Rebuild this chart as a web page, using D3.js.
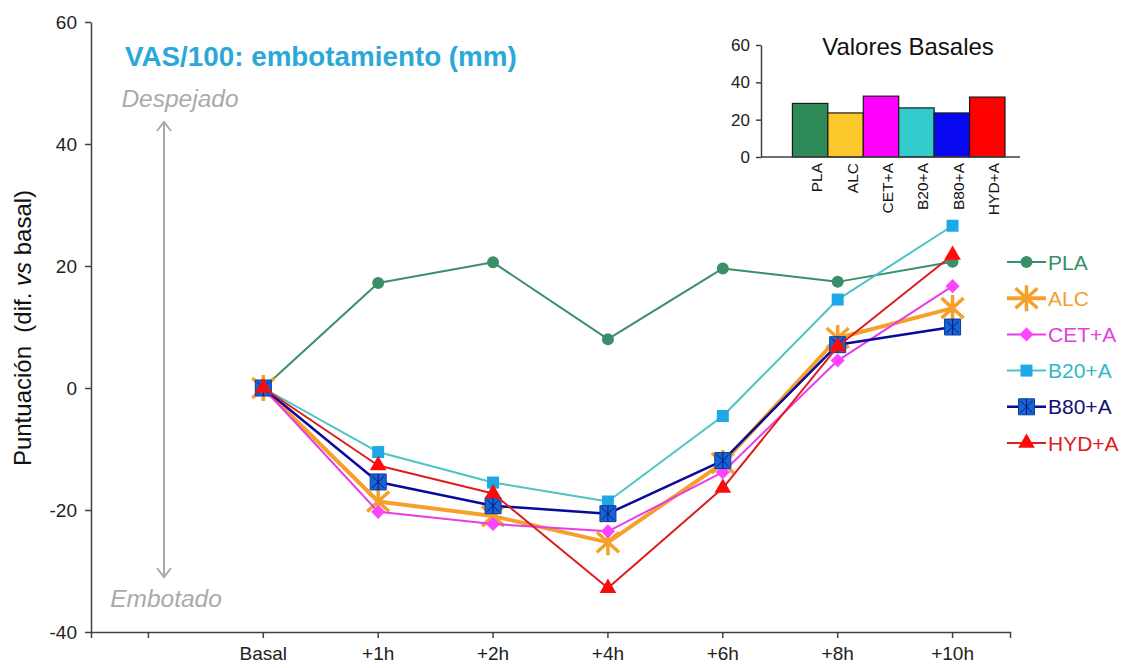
<!DOCTYPE html>
<head>
  <meta charset="utf-8">
  <title>VAS embotamiento</title>
  <style>
    body { margin: 0; background: #fff; }
    svg { display: block; font-family: "Liberation Sans", Arial, sans-serif; }
    .axis path, .axis line { stroke: #404040; stroke-width: 1.5; }
    .axis text { fill: #222; }
  </style>
</head>

<body>
  <div id="chart"></div>

  <script src="https://cdn.jsdelivr.net/npm/d3@7"></script>
  <script type="text/javascript">

    // data
    var timepoints = ["Basal", "+1h", "+2h", "+4h", "+6h", "+8h", "+10h"];
    var groups = ["PLA", "ALC", "CET+A", "B20+A", "B80+A", "HYD+A"];

    var PLA = [0, 17.2, 20.6, 8.0, 19.6, 17.4, 20.7];
    var ALC = [0, -18.6, -21.0, -25.3, -12.3, 8.2, 13.1];
    var CET = [0, -20.3, -22.3, -23.5, -13.8, 4.5, 16.7];
    var B20 = [0, -10.5, -15.5, -18.6, -4.6, 14.5, 26.6];
    var B80 = [0, -15.4, -19.3, -20.6, -11.9, 7.1, 10.0];
    var HYD = [0, -12.7, -17.3, -32.8, -16.4, 6.8, 21.8];

    var basales = [28.7, 23.6, 32.6, 26.3, 23.6, 32.1];

    var yTicks = [-40, -20, 0, 20, 40, 60];
    var insetTicks = [0, 20, 40, 60];

    var series = [
      { name: "PLA",   values: PLA, line: "#3a8f68", fill: "#3a8f68", text: "#3a8f68", width: 2,   marker: "circle" },
      { name: "ALC",   values: ALC, line: "#f5a02a", fill: "#f5a02a", text: "#f0a030", width: 4,   marker: "star" },
      { name: "CET+A", values: CET, line: "#e83ce8", fill: "#ff44ff", text: "#e040e0", width: 2,   marker: "diamond" },
      { name: "B20+A", values: B20, line: "#4cc4c4", fill: "#1ea8e8", text: "#30b8c8", width: 2,   marker: "square" },
      { name: "B80+A", values: B80, line: "#0a0a9a", fill: "#1764d4", text: "#101070", width: 2.5, marker: "boxstar" },
      { name: "HYD+A", values: HYD, line: "#dd1c1c", fill: "#ff0a0a", text: "#e02020", width: 2,   marker: "triangle" }
    ];

    var barColors = ["#2e8b57", "#fcc82c", "#ff00ff", "#33cccc", "#0808f0", "#ff0000"];

    var W = 1130, H = 668;

    var svg = d3.select("#chart").append("svg")
       .attr("width", W)
       .attr("height", H);

    ////////////////////////////////////////////////////////////////////////////
    // main chart
    var x = d3.scaleBand()
        .domain([""].concat(timepoints))
        .range([91, 1010])
        .padding(0);

    var y = d3.scaleLinear()
        .domain([-40, 60])
        .range([632, 22]);

    function px(i) { return x(timepoints[i]) + x.bandwidth() / 2; }

    var xAxis = d3.axisBottom(x)
        .tickSize(6)
        .tickSizeOuter(6)
        .tickPadding(9);

    svg.append("g")
        .attr("class", "axis")
        .attr("transform", "translate(0," + y(-40) + ")")
        .call(xAxis)
        .call(g => g.selectAll("text").attr("font-size", 19));

    var yAxis = d3.axisLeft(y)
        .tickValues(yTicks)
        .tickFormat(d => String(d))
        .tickSize(6)
        .tickSizeOuter(0)
        .tickPadding(8);

    svg.append("g")
        .attr("class", "axis")
        .attr("transform", "translate(91,0)")
        .call(yAxis)
        .call(g => g.selectAll("text").attr("font-size", 19));

    // y title
    var yt = svg.append("text")
        .attr("transform", "translate(31,328) rotate(-90)")
        .attr("text-anchor", "middle")
        .attr("font-size", 24)
        .attr("fill", "#111");
    yt.append("tspan").text("Puntuación\u00a0 (dif. ");
    yt.append("tspan").attr("font-style", "italic").text("vs");
    yt.append("tspan").text(" basal)");

    // chart title
    svg.append("text")
        .attr("x", 125)
        .attr("y", 66)
        .attr("font-size", 27.8)
        .attr("font-weight", "bold")
        .attr("fill", "#2aa8d8")
        .text("VAS/100: embotamiento (mm)");

    // Despejado / Embotado arrow
    var gray = "#aaaaaa";
    svg.append("line")
        .attr("x1", 164).attr("x2", 164)
        .attr("y1", 123).attr("y2", 577)
        .attr("stroke", gray).attr("stroke-width", 2);
    svg.append("path")
        .attr("d", "M157,131 L164,122 L171,131 M157,568 L164,577 L171,568")
        .attr("fill", "none").attr("stroke", gray).attr("stroke-width", 2);
    svg.append("text")
        .attr("x", 180).attr("y", 107)
        .attr("text-anchor", "middle")
        .attr("font-size", 24.5).attr("font-style", "italic")
        .attr("fill", gray)
        .text("Despejado");
    svg.append("text")
        .attr("x", 166).attr("y", 607)
        .attr("text-anchor", "middle")
        .attr("font-size", 24.5).attr("font-style", "italic")
        .attr("fill", gray)
        .text("Embotado");

    // markers
    function drawMarker(g, s, cx, cy) {
        var m = g.append("g").attr("transform", "translate(" + cx + "," + cy + ")");
        if (s.marker == "circle") {
            m.append("path").attr("d", d3.symbol(d3.symbolCircle, 113)()).attr("fill", s.fill);
        } else if (s.marker == "star") {
            m.append("path")
                .attr("d", "M-11,-10L11,10M-11,10L11,-10M0,-13L0,13")
                .attr("stroke", s.fill).attr("stroke-width", 3.5).attr("fill", "none");
        } else if (s.marker == "diamond") {
            m.append("path").attr("d", d3.symbol(d3.symbolSquare, 100)())
                .attr("transform", "rotate(45)").attr("fill", s.fill);
        } else if (s.marker == "square") {
            m.append("path").attr("d", d3.symbol(d3.symbolSquare, 144)()).attr("fill", s.fill);
        } else if (s.marker == "boxstar") {
            m.append("path").attr("d", d3.symbol(d3.symbolSquare, 256)())
                .attr("fill", s.fill).attr("stroke", "#0c3a9a").attr("stroke-width", 1);
            m.append("path")
                .attr("d", "M-6,-6L6,6M-6,6L6,-6M0,-8L0,8")
                .attr("stroke", "#0a1a70").attr("stroke-width", 1).attr("fill", "none");
        } else if (s.marker == "triangle") {
            m.append("path").attr("d", d3.symbol(d3.symbolTriangle, 120)()).attr("fill", s.fill);
        }
    }

    var line = d3.line()
        .x((d, i) => px(i))
        .y(d => y(d));

    series.forEach(function (s) {
        var g = svg.append("g");
        g.append("path")
            .datum(s.values)
            .attr("d", line)
            .attr("fill", "none")
            .attr("stroke", s.line)
            .attr("stroke-width", s.width)
            .attr("stroke-linejoin", "round");
        s.values.forEach(function (v, i) {
            drawMarker(g, s, px(i), y(v));
        });
    });

    // legend
    var legendY = d3.scalePoint()
        .domain(groups)
        .range([262, 443]);

    series.forEach(function (s) {
        var ly = legendY(s.name);
        var g = svg.append("g");
        g.append("line")
            .attr("x1", 1007).attr("x2", 1046)
            .attr("y1", ly).attr("y2", ly)
            .attr("stroke", s.line).attr("stroke-width", s.width);
        drawMarker(g, s, 1026.5, ly);
        g.append("text")
            .attr("x", 1048).attr("y", ly)
            .attr("dy", "0.36em")
            .attr("font-size", 21)
            .attr("fill", s.text)
            .text(s.name);
    });

    ////////////////////////////////////////////////////////////////////////////
    // inset: Valores Basales
    var ix = d3.scaleBand()
        .domain([""].concat(groups))
        .range([757, 1005])
        .padding(0);

    var iy = d3.scaleLinear()
        .domain([0, 60])
        .range([157, 45]);

    var inset = svg.append("g");

    inset.selectAll("rect")
        .data(basales)
        .join("rect")
        .attr("x", (d, i) => ix(groups[i]))
        .attr("y", d => iy(d))
        .attr("width", ix.bandwidth())
        .attr("height", d => iy(0) - iy(d))
        .attr("fill", (d, i) => barColors[i])
        .attr("stroke", "#1a1a1a")
        .attr("stroke-width", 1.2);

    inset.append("g")
        .attr("class", "axis")
        .attr("transform", "translate(761,0)")
        .call(d3.axisLeft(iy).tickValues(insetTicks).tickSize(5).tickSizeOuter(0).tickPadding(6))
        .call(g => g.selectAll("text").attr("font-size", 17));

    inset.append("line")
        .attr("x1", 761).attr("x2", 1020)
        .attr("y1", iy(0)).attr("y2", iy(0))
        .attr("stroke", "#404040").attr("stroke-width", 1.5);

    inset.selectAll(".ilab")
        .data(groups)
        .join("text")
        .attr("class", "ilab")
        .attr("transform", d => "translate(" + (ix(d) + ix.bandwidth() / 2 + 12) + ",163) rotate(-90)")
        .attr("text-anchor", "end")
        .attr("font-size", 15.5)
        .attr("fill", "#111")
        .text(d => d);

    inset.append("text")
        .attr("x", 908).attr("y", 55)
        .attr("text-anchor", "middle")
        .attr("font-size", 24)
        .attr("fill", "#111")
        .text("Valores Basales");

  </script>

</body>
